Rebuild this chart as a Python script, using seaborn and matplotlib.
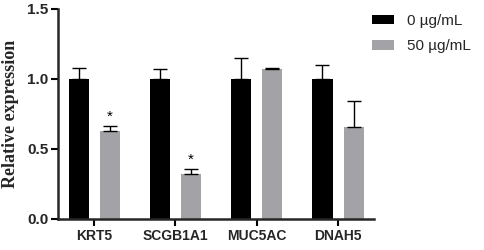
import numpy as np
import pandas as pd
import matplotlib
matplotlib.use("Agg")
import matplotlib.pyplot as plt
import seaborn as sns

# data
genes = ["KRT5", "SCGB1A1", "MUC5AC", "DNAH5"]
groups = ["0 µg/mL", "50 µg/mL"]
mean_0 = [1.0, 1.0, 1.0, 1.0]
mean_50 = [0.63, 0.32, 1.07, 0.66]
err_0 = [0.076, 0.069, 0.15, 0.098]
err_50 = [0.034, 0.04, 0.008, 0.183]
stars = ["*", "*", "", ""]

sns.set_style("ticks")
plt.rcParams['font.family'] = ['Liberation Sans', 'DejaVu Sans']

df = pd.DataFrame({
    "gene": genes * 2,
    "group": [groups[0]] * 4 + [groups[1]] * 4,
    "value": mean_0 + mean_50,
})

fig = plt.figure(figsize=(4.84, 2.5), dpi=100)
ax = fig.add_axes([0.12, 0.124, 0.653, 0.84])

sns.barplot(data=df, x="gene", y="value", hue="group", order=genes, hue_order=groups,
            palette=["#000000", "#a3a3a7"], width=0.766, gap=0.355, errorbar=None,
            saturation=1, linewidth=0, ax=ax)

# errorbars (upper only) on top of each bar
errs = err_0 + err_50
for p, e in zip(ax.patches[:8], errs):
    xc = p.get_x() + p.get_width() / 2
    h = p.get_height()
    ax.errorbar(xc, h, yerr=[[0], [e]], fmt="none", ecolor="black",
                elinewidth=1.0, capsize=5, capthick=1.0, zorder=1)

for p, s, e in zip(ax.patches[4:8], stars, err_50):
    if s:
        xc = p.get_x() + p.get_width() / 2
        ax.text(xc, p.get_height() + e + 0.015, s, ha="center", va="bottom",
                fontsize=11, color="black")

ax.set_xlim(-0.444, 3.444)
ax.set_ylim(0, 1.5)
ax.set_yticks([0.0, 0.5, 1.0, 1.5])
ax.set_yticklabels(["0.0", "0.5", "1.0", "1.5"])
ax.set_xlabel("")
ax.set_ylabel("Relative expression", fontfamily="Liberation Serif", fontweight="bold",
              fontsize=13, labelpad=6)
for lab in ax.get_xticklabels():
    lab.set_fontweight("bold")
    lab.set_fontsize(10)
for lab in ax.get_yticklabels():
    lab.set_fontweight("bold")
    lab.set_fontsize(11)
ax.tick_params(axis="both", width=1.5, length=5, pad=2, color="black")
for sp in ["left", "bottom"]:
    ax.spines[sp].set_linewidth(1.8)
sns.despine(ax=ax)

ax.legend(loc="upper left", bbox_to_anchor=(0.994, 0.976), frameon=False,
          fontsize=11, handlelength=1.4, handleheight=0.55, labelspacing=0.75,
          handletextpad=0.9, borderpad=0, borderaxespad=0)

fig.savefig("out.png", dpi=100)
